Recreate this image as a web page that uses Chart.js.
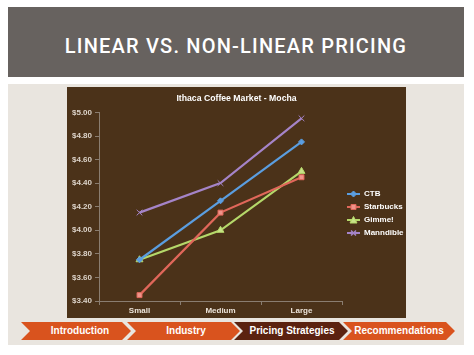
<!DOCTYPE html>
<html><head><meta charset="utf-8">
<script src="https://cdn.jsdelivr.net/npm/chart.js@4"></script>
<style>
html,body{margin:0;padding:0;background:#fff;width:474px;height:355px;overflow:hidden;font-family:"Liberation Sans",Arial,sans-serif;}
#hdr{position:absolute;left:8px;top:7px;width:456px;height:70px;background:#67625f;}
#hdr span{position:absolute;left:0;right:0;top:27px;text-align:center;color:#fff;font-family:Roboto,"Liberation Sans",sans-serif;font-weight:500;font-size:20px;letter-spacing:1.2px;line-height:24px;}
#panel{position:absolute;left:8px;top:84px;width:456px;height:261px;background:#e9e5df;}
#chartbox{position:absolute;left:67px;top:87px;width:339px;height:231px;background:#4b3219;}
.chev{position:absolute;top:322px;height:18px;line-height:18px;color:#fff;font-weight:bold;font-size:10px;text-align:center;box-sizing:border-box;background:#d9531e;clip-path:polygon(0 0,calc(100% - 9px) 0,100% 50%,calc(100% - 9px) 100%,0 100%,9px 50%);}
</style></head>
<body>
<div id="hdr"><span>LINEAR VS. NON-LINEAR PRICING</span></div>
<div id="panel"></div>
<div id="chartbox"><canvas id="c" width="339" height="231"></canvas></div>
<div class="chev" style="left:21px;width:110px;padding-left:8px;">Introduction</div>
<div class="chev" style="left:127px;width:113px;padding-left:5px;">Industry</div>
<div class="chev" style="left:234px;width:114px;padding-left:2px;background:#5b2210;">Pricing Strategies</div>
<div class="chev" style="left:343px;width:112px;padding-left:0px;">Recommendations</div>
<script>
const chartTitle = 'Ithaca Coffee Market - Mocha';
const categories = ['Small', 'Medium', 'Large'];
const seriesNames = ['CTB', 'Starbucks', 'Gimme!', 'Manndible'];
const ctb = [3.75, 4.25, 4.75];
const starbucks = [3.45, 4.15, 4.45];
const gimme = [3.75, 4.00, 4.50];
const manndible = [4.15, 4.40, 4.95];
const yMin = 3.4, yMax = 5.0, yStep = 0.2;

const colors = ['#5b9ee0', '#e0675a', '#b5d86a', '#a584c8'];
const fills = ['#5b9ee0', '#f0948a', '#c8e488', '#a584c8'];
const markers = ['rectRot', 'rect', 'triangle', 'crossRot'];
const radii = [3, 3.5, 4, 4];
const seriesData = [ctb, starbucks, gimme, manndible];

Chart.defaults.font.family = '"Liberation Sans", Arial, sans-serif';
Chart.defaults.font.weight = 'bold';
Chart.defaults.font.size = 8;

function makeIcon(i) {
  const cv = document.createElement('canvas');
  cv.width = 13; cv.height = 8;
  const g = cv.getContext('2d');
  g.strokeStyle = colors[i]; g.lineWidth = 2;
  g.beginPath(); g.moveTo(0, 4); g.lineTo(13, 4); g.stroke();
  g.fillStyle = fills[i]; g.strokeStyle = colors[i]; g.lineWidth = 1;
  const s = markers[i];
  g.beginPath();
  if (s === 'rectRot') { g.moveTo(6.5, 1); g.lineTo(9.5, 4); g.lineTo(6.5, 7); g.lineTo(3.5, 4); g.closePath(); g.fill(); g.stroke(); }
  else if (s === 'rect') { g.rect(4, 1.5, 5, 5); g.fill(); g.stroke(); }
  else if (s === 'triangle') { g.moveTo(6.5, 0.5); g.lineTo(10, 7); g.lineTo(3, 7); g.closePath(); g.fill(); g.stroke(); }
  else { g.moveTo(4, 1.5); g.lineTo(9, 6.5); g.moveTo(9, 1.5); g.lineTo(4, 6.5); g.lineWidth = 1.5; g.stroke(); }
  return cv;
}
const icons = seriesNames.map((n, i) => makeIcon(i));

const legendFix = {
  id: 'legendFix',
  beforeLayout(chart) {
    const lg = chart.legend;
    if (lg && !lg._patched) {
      const orig = lg.fit;
      lg.fit = function () { orig.call(this); this.width = 64; };
      lg._patched = true;
    }
  },
  afterLayout(chart) {
    const lg = chart.legend;
    if (lg) { lg.top += 11; lg.bottom += 11; }
  }
};

new Chart(document.getElementById('c'), {
  type: 'line',
  data: {
    labels: categories,
    datasets: seriesNames.map((n, i) => ({
      label: n,
      data: seriesData[i],
      borderColor: colors[i],
      backgroundColor: fills[i],
      pointBorderColor: colors[i],
      pointBackgroundColor: fills[i],
      pointStyle: markers[i],
      pointRadius: radii[i],
      pointBorderWidth: 1,
      borderWidth: 2.2,
      tension: 0,
      clip: false
    }))
  },
  options: {
    responsive: false,
    animation: false,
    layout: { padding: 0 },
    plugins: {
      title: { display: true, text: chartTitle, color: '#ffffff', font: { size: 8.7, weight: 'bold' }, padding: { top: 6, bottom: 9 } },
      legend: {
        position: 'right',
        labels: {
          color: '#ffffff',
          font: { size: 8, weight: 'bold' },
          padding: 5,
          usePointStyle: true,
          pointStyleWidth: 13,
          generateLabels(chart) {
            return chart.data.datasets.map((d, i) => ({
              text: d.label, pointStyle: icons[i], fillStyle: colors[i], strokeStyle: colors[i],
              lineWidth: 0, hidden: false, datasetIndex: i, fontColor: '#ffffff'
            }));
          }
        }
      },
      tooltip: { enabled: false }
    },
    scales: {
      x: {
        offset: true,
        grid: { display: true, offset: true, drawOnChartArea: false, color: '#8a7d70', tickLength: 4 },
        border: { display: true, color: '#8a7d70', width: 1 },
        ticks: { color: '#ece4da', padding: 1, font: { size: 8, weight: 'bold' } },
        afterFit(s) { s.height = 17; }
      },
      y: {
        min: yMin, max: yMax,
        grid: { display: true, drawOnChartArea: false, color: '#8a7d70', tickLength: 4 },
        border: { display: true, color: '#8a7d70', width: 1 },
        ticks: { stepSize: yStep, color: '#ddd4ca', padding: 3, font: { size: 8, weight: 'bold' },
          callback: v => '$' + Number(v).toFixed(2) },
        afterFit(s) { s.width = 32; }
      }
    }
  },
  plugins: [legendFix]
});
</script>
</body></html>
